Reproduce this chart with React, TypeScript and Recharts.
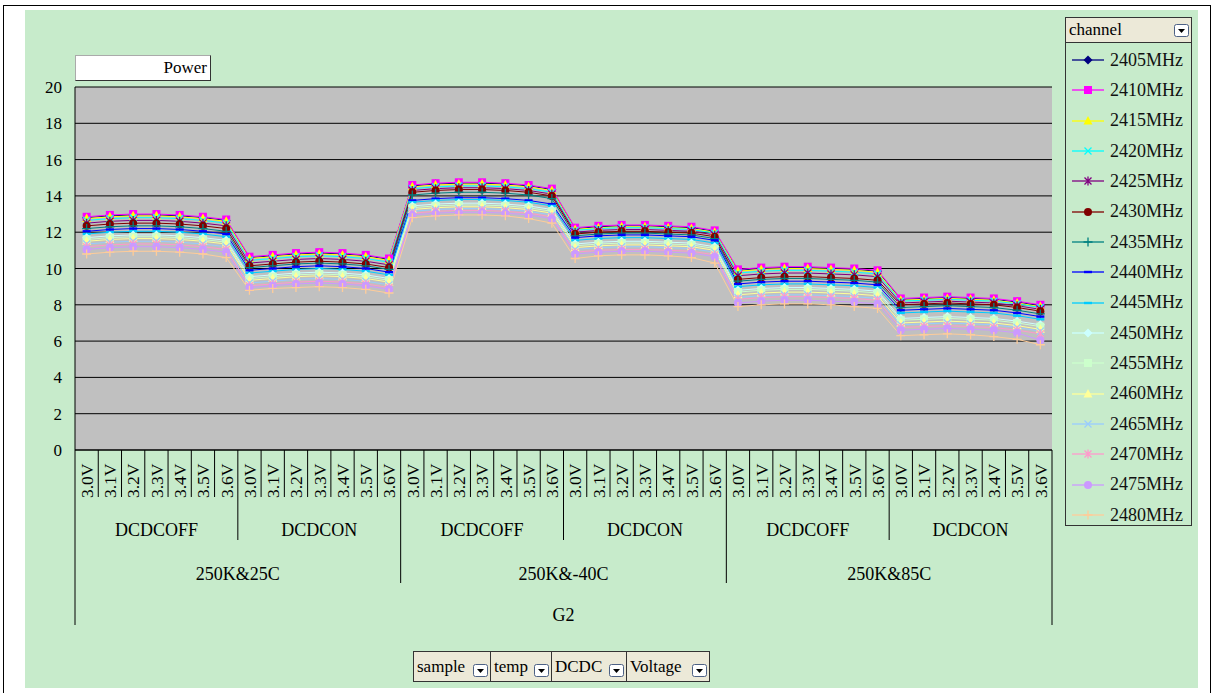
import React from "react";
import { LineChart, Line, XAxis, YAxis, CartesianGrid } from "recharts";

const SAMPLE = "G2";
const TEMPS = ["250K&25C", "250K&-40C", "250K&85C"];
const DCDC = ["DCDCOFF", "DCDCON"];
const VOLTS = ["3.0V", "3.1V", "3.2V", "3.3V", "3.4V", "3.5V", "3.6V"];
const Y_TICKS = [0, 2, 4, 6, 8, 10, 12, 14, 16, 18, 20];
const CHANNELS = ["2405MHz", "2410MHz", "2415MHz", "2420MHz", "2425MHz", "2430MHz", "2435MHz", "2440MHz",
  "2445MHz", "2450MHz", "2455MHz", "2460MHz", "2465MHz", "2470MHz", "2475MHz", "2480MHz"];

// power per channel, 42 points: temp > dcdc > voltage
const P2405 = [12.8,12.9,12.95,12.95,12.9,12.8,12.65, 10.6,10.7,10.8,10.85,10.8,10.7,10.5, 14.55,14.65,14.7,14.7,14.65,14.55,14.35, 12.2,12.3,12.35,12.35,12.3,12.25,12.05, 9.9,10.0,10.05,10.05,10.0,9.95,9.85, 8.3,8.35,8.4,8.35,8.3,8.15,7.95];
const P2410 = [12.85,12.95,13.0,13.0,12.95,12.85,12.7, 10.65,10.75,10.85,10.9,10.85,10.75,10.55, 14.6,14.7,14.75,14.75,14.7,14.6,14.4, 12.25,12.35,12.4,12.4,12.35,12.3,12.1, 9.95,10.05,10.1,10.1,10.05,10.0,9.9, 8.35,8.4,8.45,8.4,8.35,8.2,8.0];
const P2415 = [12.75,12.85,12.9,12.9,12.85,12.75,12.6, 10.55,10.65,10.75,10.8,10.75,10.65,10.45, 14.5,14.6,14.65,14.65,14.6,14.5,14.3, 12.15,12.25,12.3,12.3,12.25,12.2,12.0, 9.85,9.95,10.0,10.0,9.95,9.9,9.8, 8.25,8.3,8.35,8.3,8.25,8.1,7.9];
const P2420 = [12.65,12.75,12.8,12.8,12.75,12.65,12.5, 10.45,10.55,10.65,10.7,10.65,10.55,10.35, 14.4,14.5,14.55,14.55,14.5,14.4,14.2, 12.1,12.2,12.25,12.25,12.2,12.15,11.95, 9.75,9.85,9.9,9.9,9.85,9.8,9.7, 8.2,8.25,8.3,8.25,8.2,8.05,7.85];
const P2425 = [12.5,12.6,12.65,12.65,12.6,12.5,12.35, 10.3,10.4,10.5,10.55,10.5,10.4,10.2, 14.3,14.4,14.45,14.45,14.4,14.3,14.1, 12.0,12.1,12.15,12.15,12.1,12.05,11.85, 9.6,9.7,9.75,9.75,9.7,9.65,9.55, 8.1,8.15,8.2,8.15,8.1,7.95,7.75];
const P2430 = [12.35,12.45,12.5,12.5,12.45,12.35,12.2, 10.15,10.25,10.35,10.4,10.35,10.25,10.05, 14.2,14.3,14.35,14.35,14.3,14.2,14.0, 11.9,12.0,12.05,12.05,12.0,11.95,11.75, 9.4,9.5,9.55,9.55,9.5,9.45,9.35, 8.0,8.05,8.1,8.05,8.0,7.85,7.65];
const P2435 = [12.2,12.3,12.35,12.35,12.3,12.2,12.05, 10.05,10.15,10.25,10.3,10.25,10.15,9.95, 14.05,14.15,14.2,14.2,14.15,14.05,13.85, 11.8,11.9,11.95,11.95,11.9,11.85,11.65, 9.3,9.4,9.45,9.45,9.4,9.35,9.25, 7.85,7.9,7.95,7.9,7.85,7.7,7.5];
const P2440 = [12.05,12.15,12.2,12.2,12.15,12.05,11.9, 9.9,10.0,10.1,10.15,10.1,10.0,9.8, 13.75,13.85,13.9,13.9,13.85,13.75,13.55, 11.7,11.8,11.85,11.85,11.8,11.75,11.55, 9.15,9.25,9.3,9.3,9.25,9.2,9.1, 7.7,7.75,7.8,7.75,7.7,7.55,7.35];
const P2445 = [11.9,12.0,12.05,12.05,12.0,11.9,11.75, 9.75,9.85,9.95,10.0,9.95,9.85,9.65, 13.65,13.75,13.8,13.8,13.75,13.65,13.45, 11.55,11.65,11.7,11.7,11.65,11.6,11.4, 9.0,9.1,9.15,9.15,9.1,9.05,8.95, 7.55,7.6,7.65,7.6,7.55,7.4,7.2];
const P2450 = [11.7,11.8,11.85,11.85,11.8,11.7,11.55, 9.55,9.65,9.75,9.8,9.75,9.65,9.45, 13.45,13.55,13.6,13.6,13.55,13.45,13.25, 11.35,11.45,11.5,11.5,11.45,11.4,11.2, 8.8,8.9,8.95,8.95,8.9,8.85,8.75, 7.25,7.3,7.35,7.3,7.25,7.1,6.9];
const P2455 = [11.6,11.7,11.75,11.75,11.7,11.6,11.45, 9.45,9.55,9.65,9.7,9.65,9.55,9.35, 13.35,13.45,13.5,13.5,13.45,13.35,13.15, 11.25,11.35,11.4,11.4,11.35,11.3,11.1, 8.7,8.8,8.85,8.85,8.8,8.75,8.65, 7.15,7.2,7.25,7.2,7.15,7.0,6.8];
const P2460 = [11.5,11.6,11.65,11.65,11.6,11.5,11.35, 9.35,9.45,9.55,9.6,9.55,9.45,9.25, 13.25,13.35,13.4,13.4,13.35,13.25,13.05, 11.15,11.25,11.3,11.3,11.25,11.2,11.0, 8.55,8.65,8.7,8.7,8.65,8.6,8.5, 7.0,7.05,7.1,7.05,7.0,6.85,6.65];
const P2465 = [11.35,11.45,11.5,11.5,11.45,11.35,11.2, 9.2,9.3,9.4,9.45,9.4,9.3,9.1, 13.15,13.25,13.3,13.3,13.25,13.15,12.95, 11.05,11.15,11.2,11.2,11.15,11.1,10.9, 8.4,8.5,8.55,8.55,8.5,8.45,8.35, 6.9,6.95,7.0,6.95,6.9,6.75,6.55];
const P2470 = [11.2,11.3,11.35,11.35,11.3,11.2,11.05, 9.05,9.15,9.25,9.3,9.25,9.15,8.95, 13.05,13.15,13.2,13.2,13.15,13.05,12.85, 10.9,11.0,11.05,11.05,11.0,10.95,10.75, 8.3,8.4,8.45,8.45,8.4,8.35,8.25, 6.75,6.8,6.85,6.8,6.75,6.6,6.4];
const P2475 = [11.05,11.15,11.2,11.2,11.15,11.05,10.9, 8.95,9.05,9.15,9.2,9.15,9.05,8.85, 12.95,13.05,13.1,13.1,13.05,12.95,12.75, 10.8,10.9,10.95,10.95,10.9,10.85,10.65, 8.1,8.2,8.25,8.25,8.2,8.15,8.05, 6.6,6.65,6.7,6.65,6.6,6.45,6.05];
const P2480 = [10.8,10.9,10.95,10.95,10.9,10.8,10.6, 8.8,8.9,8.95,9.0,8.95,8.85,8.65, 12.8,12.9,12.95,12.95,12.9,12.75,12.5, 10.55,10.7,10.75,10.75,10.7,10.6,10.3, 7.9,8.0,8.05,8.05,8.0,7.9,7.8, 6.3,6.35,6.4,6.35,6.25,6.1,5.8];

const SERIES = [P2405, P2410, P2415, P2420, P2425, P2430, P2435, P2440,
  P2445, P2450, P2455, P2460, P2465, P2470, P2475, P2480];

const LOOK = [
  { color: "#000080", marker: "diamond" },
  { color: "#ff00ff", marker: "square" },
  { color: "#ffff00", marker: "triangle" },
  { color: "#00ffff", marker: "x" },
  { color: "#800080", marker: "star" },
  { color: "#800000", marker: "circle" },
  { color: "#008080", marker: "plus" },
  { color: "#0000ff", marker: "dash" },
  { color: "#00ccff", marker: "dash" },
  { color: "#ccffff", marker: "diamond" },
  { color: "#ccffcc", marker: "square" },
  { color: "#ffff99", marker: "triangle" },
  { color: "#99ccff", marker: "x" },
  { color: "#ff99cc", marker: "star" },
  { color: "#cc99ff", marker: "circle" },
  { color: "#ffcc99", marker: "plus" },
];

const rows: any[] = [];
TEMPS.forEach((t) => DCDC.forEach((d) => VOLTS.forEach((v) => {
  const i = rows.length;
  const r: any = { key: `${t}|${d}|${v}`, temp: t, dcdc: d, volt: v };
  SERIES.forEach((s, k) => { r[`c${k}`] = s[i]; });
  rows.push(r);
})));

const FONT = '"Liberation Serif", "DejaVu Serif", serif';
const PLOT_W = 977;
const STEP = PLOT_W / rows.length;

function Marker({ type, color, cx, cy }: any) {
  if (cx == null || cy == null) return null;
  switch (type) {
    case "diamond":
      return <polygon points={`${cx},${cy - 4.5} ${cx + 4.5},${cy} ${cx},${cy + 4.5} ${cx - 4.5},${cy}`} fill={color} />;
    case "square":
      return <rect x={cx - 4} y={cy - 4} width={8} height={8} fill={color} />;
    case "triangle":
      return <polygon points={`${cx},${cy - 5} ${cx + 4.5},${cy + 3.5} ${cx - 4.5},${cy + 3.5}`} fill={color} />;
    case "x":
      return <path d={`M${cx - 3.5} ${cy - 3.5}L${cx + 3.5} ${cy + 3.5}M${cx - 3.5} ${cy + 3.5}L${cx + 3.5} ${cy - 3.5}`} stroke={color} strokeWidth={1.3} />;
    case "star":
      return <path d={`M${cx - 3.5} ${cy - 3.5}L${cx + 3.5} ${cy + 3.5}M${cx - 3.5} ${cy + 3.5}L${cx + 3.5} ${cy - 3.5}M${cx} ${cy - 4.5}V${cy + 4.5}`} stroke={color} strokeWidth={1.3} />;
    case "circle":
      return <circle cx={cx} cy={cy} r={4} fill={color} />;
    case "plus":
      return <path d={`M${cx - 4.5} ${cy}H${cx + 4.5}M${cx} ${cy - 4.5}V${cy + 4.5}`} stroke={color} strokeWidth={1.3} />;
    case "dash":
      return <rect x={cx - 4} y={cy - 1.2} width={8} height={2.4} fill={color} />;
  }
  return null;
}

function CatTick(props: any) {
  const { x, y, payload } = props;
  const i = props.index ?? payload.index;
  const r = rows[i];
  if (!r) return null;
  const bx = x - STEP / 2;
  const len = i === 0 ? 175 : i % 14 === 0 ? 133 : i % 7 === 0 ? 90 : 47;
  const last = i === rows.length - 1;
  return (
    <g fontFamily={FONT} fill="#000">
      <line x1={bx} y1={y} x2={bx} y2={y + len} stroke="#000" />
      {last && <line x1={x + STEP / 2} y1={y} x2={x + STEP / 2} y2={y + 175} stroke="#000" />}
      <text transform={`translate(${x},${y + 48}) rotate(-90)`} dy="0.36em" fontSize={17.5}>{r.volt}</text>
      {i % 7 === 3 && <text x={x} y={y + 86} textAnchor="middle" fontSize={18}>{r.dcdc}</text>}
      {i % 14 === 6 && <text x={x + STEP / 2} y={y + 130} textAnchor="middle" fontSize={18}>{r.temp}</text>}
      {i === 20 && <text x={x + STEP / 2} y={y + 171} textAnchor="middle" fontSize={18}>{SAMPLE}</text>}
    </g>
  );
}

function DropIcon() {
  return (
    <svg width={15} height={13} style={{ display: "block" }}>
      <rect x={0.5} y={0.5} width={14} height={12} rx={2} fill="#fff" stroke="#4d6185" />
      <polygon points="4,5 11,5 7.5,9" fill="#000" />
    </svg>
  );
}

function ChannelLegend() {
  return (
    <div style={{ position: "absolute", left: 1065, top: 17, width: 125, height: 507, border: "1px solid #333", fontFamily: FONT, background: "#c7ebcb" }}>
      <div style={{ height: 24, background: "#ece9d8", borderBottom: "1px solid #333", display: "flex", alignItems: "center", justifyContent: "space-between", padding: "0 2px 0 3px", fontSize: 17 }}>
        <span>channel</span>
        <DropIcon />
      </div>
      <div style={{ paddingTop: 2 }}>
        {CHANNELS.map((c, k) => (
          <div key={c} style={{ height: 30.33, display: "flex", alignItems: "center" }}>
            <svg width={44} height={30} style={{ display: "block" }}>
              <line x1={6} y1={15} x2={38} y2={15} stroke={LOOK[k].color} strokeWidth={1.3} />
              <Marker type={LOOK[k].marker} color={LOOK[k].color} cx={22} cy={15} />
            </svg>
            <span style={{ fontSize: 18, color: "#111" }}>{c}</span>
          </div>
        ))}
      </div>
    </div>
  );
}

const FIELDS = [
  { name: "sample", w: 78 },
  { name: "temp", w: 62 },
  { name: "DCDC", w: 76 },
  { name: "Voltage", w: 84 },
];

export default function App() {
  return (
    <div style={{ position: "absolute", left: 0, top: 0, width: 1217, height: 693, background: "#fff", overflow: "hidden" }}>
      <div style={{ position: "absolute", left: 3, top: 5, width: 1208, height: 690, border: "1px solid #000", boxSizing: "border-box" }} />
      <div style={{ position: "absolute", left: 25, top: 10, width: 1173, height: 678, background: "#c7ebcb" }} />
      <div style={{ position: "absolute", left: 0, top: 0 }}>
        <LineChart width={1217} height={693} data={rows} margin={{ top: 87, right: 165, bottom: 63, left: 25 }}>
          <CartesianGrid vertical={false} stroke="#000" fill="#c0c0c0" horizontalValues={Y_TICKS} />
          <XAxis dataKey="key" type="category" scale="band" interval={0} height={180} tickSize={0} tickMargin={0}
            axisLine={{ stroke: "#000" }} tickLine={false} tick={<CatTick />} />
          <YAxis type="number" domain={[0, 20]} ticks={Y_TICKS} width={50} tickSize={0} tickMargin={13}
            axisLine={{ stroke: "#000" }} tickLine={false}
            tick={{ fill: "#000", fontSize: 17, fontFamily: FONT }} />
          {SERIES.map((_, k) => (
            <Line key={k} type="linear" dataKey={`c${k}`} name={CHANNELS[k]} stroke={LOOK[k].color} strokeWidth={1}
              isAnimationActive={false} activeDot={false}
              dot={(p: any) => <Marker key={`m${k}-${p.index}`} type={LOOK[k].marker} color={LOOK[k].color} cx={p.cx} cy={p.cy} />} />
          ))}
        </LineChart>
      </div>
      <div style={{ position: "absolute", left: 75, top: 55, width: 136, height: 26, boxSizing: "border-box", background: "#fff",
        borderTop: "1px solid #aaa", borderLeft: "1px solid #aaa", borderRight: "1px solid #333", borderBottom: "1px solid #333",
        fontFamily: FONT, fontSize: 17, textAlign: "right", paddingRight: 3, lineHeight: "24px" }}>Power</div>
      <ChannelLegend />
      <div style={{ position: "absolute", left: 413, top: 651, height: 31, display: "flex", fontFamily: FONT, fontSize: 17 }}>
        {FIELDS.map((f) => (
          <div key={f.name} style={{ width: f.w, height: 31, boxSizing: "border-box", background: "#ece9d8", border: "1px solid #333",
            display: "flex", alignItems: "center", justifyContent: "space-between", padding: "0 2px 0 3px", marginRight: -1 }}>
            <span>{f.name}</span>
            <div style={{ marginTop: 8 }}><DropIcon /></div>
          </div>
        ))}
      </div>
    </div>
  );
}
